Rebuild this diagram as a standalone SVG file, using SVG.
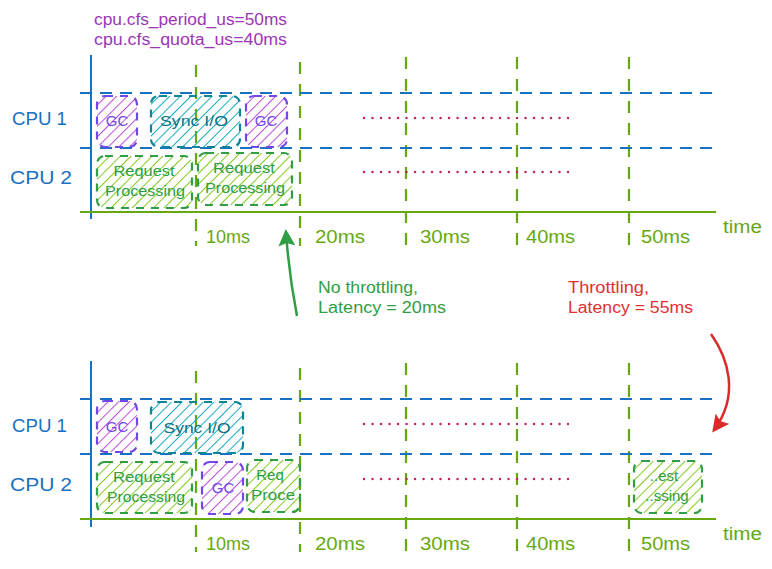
<svg xmlns="http://www.w3.org/2000/svg" width="772" height="569" viewBox="0 0 772 569">
<style>
text{font-family:"Liberation Sans","DejaVu Sans",sans-serif;}
.cpu{fill:#1971c2;font-size:18px;}
.ms{fill:#66a80f;font-size:18px;}
.cfg{fill:#9c36b5;font-size:16px;}
.nt{font-size:15px;text-anchor:middle;}
.bl{stroke:#1971c2;stroke-width:2;fill:none;}
.bd{stroke:#1971c2;stroke-width:2.2;stroke-dasharray:12 8;fill:none;}
.gd{stroke:#66a80f;stroke-width:2.2;stroke-dasharray:12 10;fill:none;}
.ga{stroke:#66a80f;stroke-width:2;fill:none;}
.rd{stroke:#c2255c;stroke-width:2.4;stroke-dasharray:0.1 8.4;stroke-linecap:round;fill:none;}
.gc rect{fill:url(#hp);stroke:#7048e8;stroke-width:2.2;stroke-dasharray:8 7;}
.gc text{fill:#7048e8;}
.sy rect{fill:url(#ht);stroke:#0c8599;stroke-width:2.2;stroke-dasharray:8 7;}
.sy text{fill:#0b7285;}
.rp rect{fill:url(#hg);stroke:#2f9e44;stroke-width:2.2;stroke-dasharray:8 7;}
.rp text{fill:#2f9e44;}
</style>
<defs>
<pattern id="hp" width="7.5" height="7.5" patternUnits="userSpaceOnUse" patternTransform="rotate(45)"><line x1="0" y1="0" x2="0" y2="7.5" stroke="#be4bdb" stroke-width="2"/></pattern>
<pattern id="ht" width="7.5" height="7.5" patternUnits="userSpaceOnUse" patternTransform="rotate(45)"><line x1="0" y1="0" x2="0" y2="7.5" stroke="#15aabf" stroke-width="2"/></pattern>
<pattern id="hg" width="7.5" height="7.5" patternUnits="userSpaceOnUse" patternTransform="rotate(45)"><line x1="0" y1="0" x2="0" y2="7.5" stroke="#82c91e" stroke-width="2"/></pattern>
<marker id="ag" markerWidth="17" markerHeight="17" refX="14" refY="8.5" orient="auto" markerUnits="userSpaceOnUse" viewBox="0 0 17 17"><path d="M0,0 L17,8.5 L0,17 L3,8.5 z" fill="#2f9e44"/></marker>
<marker id="ar" markerWidth="17" markerHeight="17" refX="14" refY="8.5" orient="auto" markerUnits="userSpaceOnUse" viewBox="0 0 17 17"><path d="M0,0 L17,8.5 L0,17 L3,8.5 z" fill="#d92b2b"/></marker>
</defs>

<text class="cfg" x="94" y="25" textLength="193" lengthAdjust="spacingAndGlyphs">cpu.cfs_period_us=50ms</text>
<text class="cfg" x="94" y="45" textLength="193" lengthAdjust="spacingAndGlyphs">cpu.cfs_quota_us=40ms</text>

<g id="grid-top">
<path class="gd" d="M196,65V246M300,62V246M406,57V246M517,57V246M629,57V246"/>
<path class="bd" d="M80,93H718M80,148H718"/>
<path class="rd" d="M364,118H568M364,172H568"/>
<path class="bl" d="M91,55V219"/>
<path class="ga" d="M80,212H716"/>
</g>
<g id="grid-bottom">
<path class="gd" d="M196,371V552M300,368V552M406,363V552M517,363V552M629,363V552"/>
<path class="bd" d="M80,399H718M80,454H718"/>
<path class="rd" d="M364,424H568M364,479H568"/>
<path class="bl" d="M91,361V527"/>
<path class="ga" d="M80,519H716"/>
</g>

<g id="labels-top">
<text class="cpu" x="12" y="125" textLength="55" lengthAdjust="spacingAndGlyphs">CPU 1</text>
<text class="cpu" x="10" y="184" textLength="62" lengthAdjust="spacingAndGlyphs">CPU 2</text>
<text class="ms" x="206" y="243" textLength="44" lengthAdjust="spacingAndGlyphs">10ms</text>
<text class="ms" x="315" y="243" textLength="50" lengthAdjust="spacingAndGlyphs">20ms</text>
<text class="ms" x="420" y="243" textLength="50" lengthAdjust="spacingAndGlyphs">30ms</text>
<text class="ms" x="526" y="243" textLength="49" lengthAdjust="spacingAndGlyphs">40ms</text>
<text class="ms" x="641" y="243" textLength="49" lengthAdjust="spacingAndGlyphs">50ms</text>
<text class="ms" x="723" y="233" textLength="39" lengthAdjust="spacingAndGlyphs">time</text>
</g>
<g id="labels-bottom">
<text class="cpu" x="12" y="432" textLength="55" lengthAdjust="spacingAndGlyphs">CPU 1</text>
<text class="cpu" x="10" y="491" textLength="62" lengthAdjust="spacingAndGlyphs">CPU 2</text>
<text class="ms" x="206" y="550" textLength="44" lengthAdjust="spacingAndGlyphs">10ms</text>
<text class="ms" x="315" y="550" textLength="50" lengthAdjust="spacingAndGlyphs">20ms</text>
<text class="ms" x="420" y="550" textLength="50" lengthAdjust="spacingAndGlyphs">30ms</text>
<text class="ms" x="526" y="550" textLength="49" lengthAdjust="spacingAndGlyphs">40ms</text>
<text class="ms" x="641" y="550" textLength="49" lengthAdjust="spacingAndGlyphs">50ms</text>
<text class="ms" x="723" y="540" textLength="39" lengthAdjust="spacingAndGlyphs">time</text>
</g>

<g id="t-gc1" class="gc"><rect x="97" y="96" width="40" height="51" rx="8"/><text class="nt" x="117" y="126">GC</text></g>
<g id="t-sync" class="sy"><rect x="151" y="96" width="89" height="51" rx="8"/><text class="nt" x="194" y="126" textLength="68" lengthAdjust="spacingAndGlyphs">Sync I/O</text></g>
<g id="t-gc2" class="gc"><rect x="246" y="96" width="41" height="51" rx="8"/><text class="nt" x="266" y="126">GC</text></g>
<g id="t-rp1" class="rp"><rect x="97" y="156" width="95" height="52" rx="8"/><text class="nt" x="144" y="176" textLength="61" lengthAdjust="spacingAndGlyphs">Request</text><text class="nt" x="145" y="196" textLength="80" lengthAdjust="spacingAndGlyphs">Processing</text></g>
<g id="t-rp2" class="rp"><rect x="198" y="153" width="94" height="52" rx="8"/><text class="nt" x="244" y="173" textLength="62" lengthAdjust="spacingAndGlyphs">Request</text><text class="nt" x="245" y="193" textLength="80" lengthAdjust="spacingAndGlyphs">Processing</text></g>

<g id="b-gc1" class="gc"><rect x="97" y="401" width="40" height="51" rx="8"/><text class="nt" x="117" y="432">GC</text></g>
<g id="b-sync" class="sy"><rect x="151" y="402" width="92" height="51" rx="8"/><text class="nt" x="197" y="433" textLength="67" lengthAdjust="spacingAndGlyphs">Sync I/O</text></g>
<g id="b-rp1" class="rp"><rect x="97" y="462" width="95" height="51" rx="8"/><text class="nt" x="144" y="482" textLength="62" lengthAdjust="spacingAndGlyphs">Request</text><text class="nt" x="146" y="502" textLength="78" lengthAdjust="spacingAndGlyphs">Processing</text></g>
<g id="b-gc2" class="gc"><rect x="202" y="462" width="41" height="52" rx="8"/><text class="nt" x="223" y="493">GC</text></g>
<g id="b-req" class="rp"><rect x="247" y="460" width="53" height="52" rx="8"/><text class="nt" x="270" y="480">Req</text><text class="nt" x="273" y="500" textLength="44" lengthAdjust="spacingAndGlyphs">Proce</text></g>
<g id="b-est" class="rp"><rect x="634" y="461" width="68" height="52" rx="8"/><text class="nt" x="664" y="481">..est</text><text class="nt" x="667" y="501">..ssing</text></g>

<g id="connectors">
<path d="M297,316 C292,290 288,262 286,232" stroke="#2f9e44" stroke-width="2.5" fill="none" marker-end="url(#ag)"/>
<path d="M711,334 C728,358 740,395 714,430" stroke="#d92b2b" stroke-width="2.5" fill="none" marker-end="url(#ar)"/>
</g>

<g id="note-green">
<text x="318" y="293" fill="#2f9e44" font-size="16" textLength="100" lengthAdjust="spacingAndGlyphs">No throttling,</text>
<text x="318" y="313" fill="#2f9e44" font-size="16" textLength="128" lengthAdjust="spacingAndGlyphs">Latency = 20ms</text>
</g>
<g id="note-red">
<text x="568" y="293" fill="#e03131" font-size="16" textLength="81" lengthAdjust="spacingAndGlyphs">Throttling,</text>
<text x="568" y="313" fill="#e03131" font-size="16" textLength="125" lengthAdjust="spacingAndGlyphs">Latency = 55ms</text>
</g>
</svg>
